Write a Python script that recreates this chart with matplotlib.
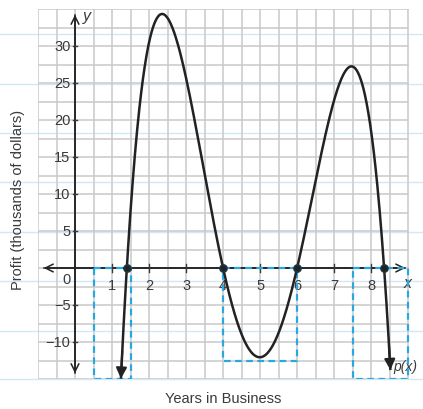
import numpy as np
import matplotlib
matplotlib.use("Agg")
import matplotlib.pyplot as plt
from matplotlib.lines import Line2D

plt.rcParams["font.family"] = ["Liberation Sans", "DejaVu Sans"]

# ---- data ----
roots = [1.4, 4.0, 6.0, 8.35]          # zeros of p(x)
lead_coef = -1.0                        # leading coefficient of the quartic
x_start, x_end = 1.24, 8.52             # ends of the drawn curve (arrowheads)
x_ticks = [1, 2, 3, 4, 5, 6, 7, 8]
y_ticks = [-10, -5, 5, 10, 15, 20, 25, 30]
boxes = [(0.5, 1.5, -15.0), (4.0, 6.0, -12.5), (7.5, 9.0, -15.0)]  # (x0, x1, ybottom)
notebook_rows_px = [35, 85, 134, 183, 233, 282, 332, 380]

W, H = 423, 410
fig = plt.figure(figsize=(W / 100, H / 100), dpi=100)

# notebook paper lines
for yp in notebook_rows_px:
    fy = 1 - yp / H
    fig.lines.append(Line2D([0, 1], [fy, fy], transform=fig.transFigure,
                            color="#d3e8f6", lw=1.0, zorder=-5))

xmin, xmax, ymin, ymax = -1, 9.05, -15, 35
left_px, right_px, top_px, bot_px = 38, 410, 10, 380
ax = fig.add_axes([left_px / W, 1 - bot_px / H, (right_px - left_px) / W, (bot_px - top_px) / H])
ax.set_xlim(xmin, xmax)
ax.set_ylim(ymin, ymax)
ax.patch.set_alpha(0)
for s in ax.spines.values():
    s.set_visible(False)
ax.set_xticks([])
ax.set_yticks([])

gc = "#c9c9c9"
for gx in np.arange(-1, 9.01, 0.5):
    ax.plot([gx, gx], [ymin, ymax], color=gc, lw=1.1, zorder=1)
for gy in np.arange(-15, 35.01, 2.5):
    ax.plot([xmin, 9.0], [gy, gy], color=gc, lw=1.1, zorder=1)

# axes with open arrowheads
ak = dict(arrowstyle="->", color="#222222", lw=1.1, mutation_scale=14)
ax.annotate("", xy=(-0.92, 0), xytext=(9.0, 0), arrowprops=ak, zorder=3)
ax.annotate("", xy=(9.0, 0), xytext=(-0.92, 0), arrowprops=ak, zorder=3)
ax.annotate("", xy=(0, 34.6), xytext=(0, -14.6), arrowprops=ak, zorder=3)
ax.annotate("", xy=(0, -14.6), xytext=(0, 34.6), arrowprops=ak, zorder=3)

tc = "#3a3a3a"
for t in x_ticks:
    ax.plot([t, t], [-0.6, 0.6], color=tc, lw=1.0, zorder=3)
    ax.text(t, -1.3, str(t), ha="center", va="top", fontsize=10.5, color=tc)
for t in y_ticks:
    ax.plot([-0.06, 0.06], [t, t], color=tc, lw=1.0, zorder=3)
    lab = str(t).replace("-", "\u2212")
    ax.text(-0.12, t, lab, ha="right", va="center", fontsize=10.5, color=tc)
ax.text(-0.12, -0.6, "0", ha="right", va="top", fontsize=10.5, color=tc)

ax.text(8.88, -1.0, "x", ha="left", va="top", fontsize=11.5, style="italic", color=tc)
ax.text(0.2, 35.2, "y", ha="left", va="top", fontsize=11.5, style="italic", color=tc)
ax.text(8.6, -13.2, "p(x)", ha="left", va="center", fontsize=10, style="italic",
        color=tc, clip_on=False)

# dashed rectangles
for x0, x1, yb in boxes:
    ax.plot([x0, x1, x1, x0, x0], [0, 0, yb, yb, 0], color="#29a8e0", lw=1.6,
            ls=(0, (3, 2)), zorder=3.5)

# curve
xs = np.linspace(x_start, x_end, 600)
ys = lead_coef * np.prod([xs - r for r in roots], axis=0)
ax.plot(xs, ys, color="#222222", lw=1.8, zorder=4, solid_capstyle="butt")
# arrowheads at ends pointing down
for xa, xb in [(xs[3], xs[0]), (xs[-4], xs[-1])]:
    ya = lead_coef * np.prod([xa - r for r in roots])
    yb = lead_coef * np.prod([xb - r for r in roots])
    ax.annotate("", xy=(xb, yb), xytext=(xa, ya),
                arrowprops=dict(arrowstyle="-|>", color="#222222", lw=1.5,
                                mutation_scale=16, shrinkA=0, shrinkB=0), zorder=5)

ax.scatter(roots, [0] * len(roots), s=28, color="#222222", edgecolor="#1a3a4a", zorder=6)

fig.text(18 / W, 1 - 200 / H, "Profit (thousands of dollars)", rotation=90,
         ha="center", va="center", fontsize=10.5, color=tc)
fig.text(223 / W, 1 - 399 / H, "Years in Business", ha="center", va="center",
         fontsize=10.5, color=tc)

fig.savefig("out.png", dpi=100)
